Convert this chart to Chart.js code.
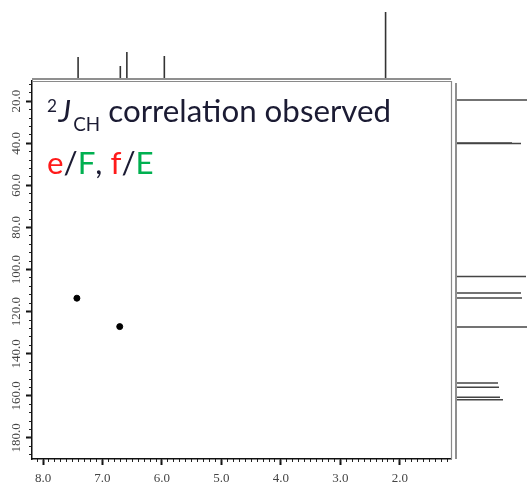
<!DOCTYPE html>
<html>
<head>
<meta charset="utf-8">
<title>HMBC 2J(CH)</title>
<script src="https://cdn.jsdelivr.net/npm/chart.js@4.4.1/dist/chart.umd.min.js"></script>
<style>
    html, body { margin: 0; padding: 0; background: #fff; }
    #wrap { position: relative; width: 527px; height: 485px; overflow: hidden; }
    #wrap canvas { position: absolute; left: 0; top: 0; }
</style>
</head>
<body>
<div id="wrap">
    <canvas id="chartTop" width="527" height="485"></canvas>
    <canvas id="chartRight" width="527" height="485"></canvas>
    <canvas id="chartMain" width="527" height="485"></canvas>
</div>
<script>
// Rango de los ejes (ppm)
const X_MIN = 1.14, X_MAX = 8.185;     // 1H
const Y_MIN = 10.4, Y_MAX = 190;       // 13C

// Marcas de los ejes
const X_TICKS = [8.0, 7.0, 6.0, 5.0, 4.0, 3.0, 2.0];
const Y_TICKS = [20.0, 40.0, 60.0, 80.0, 100.0, 120.0, 140.0, 160.0, 180.0];

// Correlaciones observadas (1H, 13C)
const CROSS_H = [7.43, 6.71];
const CROSS_C = [113.6, 127.1];

// Proyección 1H (arriba)
const TOP_PPM = [7.41, 6.70, 6.59, 5.96, 2.24];
const TOP_INT = [22, 13, 27, 23, 67];

// Proyección 13C (derecha)
const RIGHT_PPM = [19.4, 39.8, 40.1, 103.3, 111.1, 113.5, 127.3, 153.9, 155.9, 160.7, 161.8];
const RIGHT_INT = [71, 56, 65, 70, 65, 66, 71, 42, 43, 44, 47];

// Texto
const NOTA_LINEA2 = [
    { t: 'e', c: '#ff1a1a' }, { t: '/', c: '#1b1b33' }, { t: 'F', c: '#00b050' },
    { t: ', ', c: '#1b1b33' }, { t: 'f', c: '#ff1a1a' }, { t: '/', c: '#1b1b33' },
    { t: 'E', c: '#00b050' }
];

function minorTicks(min, max, step) {
    const out = [];
    for (let v = Math.ceil(min / step) * step; v <= max; v += step) out.push({ value: +v.toFixed(3) });
    return out;
}

const baseOpts = {
    responsive: false,
    animation: false,
    events: [],
    plugins: { legend: { display: false }, tooltip: { enabled: false } }
};

// Marco gris y etiquetas del eje 13C
const marcoPlugin = {
    id: 'marco',
    afterDraw(chart) {
        const { ctx, chartArea: a, scales } = chart;
        ctx.save();
        ctx.strokeStyle = '#8a8a8a';
        ctx.lineWidth = 1.2;
        ctx.beginPath();
        ctx.moveTo(a.left, a.top + 0.5);
        ctx.lineTo(a.right + 0.5, a.top + 0.5);
        ctx.lineTo(a.right + 0.5, a.bottom);
        ctx.stroke();

        // etiquetas rotadas
        ctx.fillStyle = '#444';
        ctx.font = '13px "Liberation Serif", serif';
        ctx.textAlign = 'center';
        ctx.textBaseline = 'middle';
        Y_TICKS.forEach(v => {
            const y = scales.y.getPixelForValue(v);
            ctx.save();
            ctx.translate(17, y);
            ctx.rotate(-Math.PI / 2);
            ctx.fillText(v.toFixed(1), 0, 0);
            ctx.restore();
        });

        // nota
        ctx.textAlign = 'left';
        ctx.textBaseline = 'alphabetic';
        ctx.font = '100px Lato';
        const size = 100 * 283 / ctx.measureText('correlation observed').width;
        ctx.fillStyle = '#1b1b33';
        ctx.font = (size * 0.55) + 'px Lato';
        ctx.fillText('2', 47, 111.7);
        ctx.font = 'italic ' + size + 'px Lato';
        ctx.fillText('J', 58.5, 122.3);
        ctx.font = (size * 0.6) + 'px Lato';
        ctx.fillText('CH', 73.3, 131);
        ctx.font = size + 'px Lato';
        ctx.fillText('correlation observed', 108.3, 122.3);

        let x = 47;
        NOTA_LINEA2.forEach(p => {
            ctx.fillStyle = p.c;
            ctx.fillText(p.t, x, 174.3);
            x += ctx.measureText(p.t).width;
        });
        ctx.restore();
    }
};

// Espectro 2D
new Chart(document.getElementById('chartMain'), {
    type: 'scatter',
    data: {
        datasets: [{
            data: CROSS_H.map((h, i) => ({ x: h, y: CROSS_C[i] })),
            pointRadius: 3,
            backgroundColor: '#000',
            borderColor: '#000'
        }]
    },
    options: {
        ...baseOpts,
        layout: { padding: { top: 81, right: 76, left: 0, bottom: 0 } },
        scales: {
            x: {
                type: 'linear', position: 'bottom', reverse: true, min: X_MIN, max: X_MAX, weight: 1,
                afterFit: s => { s.height = 26; },
                afterBuildTicks: s => { s.ticks = X_TICKS.map(v => ({ value: v })); },
                grid: { drawOnChartArea: false, drawTicks: true, tickLength: 6, tickWidth: 2, tickColor: '#111' },
                border: { display: true, color: '#111', width: 1.5 },
                ticks: {
                    autoSkip: false, maxRotation: 0, minRotation: 0, padding: 6, color: '#444',
                    font: { family: '"Liberation Serif", serif', size: 13 },
                    callback: v => Number(v).toFixed(1)
                }
            },
            xMinor: {
                type: 'linear', position: 'bottom', reverse: true, min: X_MIN, max: X_MAX, weight: 0,
                afterFit: s => { s.height = 0; },
                afterBuildTicks: s => { s.ticks = minorTicks(X_MIN, X_MAX, 0.1); },
                grid: { drawOnChartArea: false, drawTicks: true, tickLength: 3, tickWidth: 1, tickColor: '#222' },
                border: { display: false },
                ticks: { display: false, autoSkip: false }
            },
            y: {
                type: 'linear', position: 'left', reverse: true, min: Y_MIN, max: Y_MAX, weight: 1,
                afterFit: s => { s.width = 32; },
                afterBuildTicks: s => { s.ticks = Y_TICKS.map(v => ({ value: v })); },
                grid: { drawOnChartArea: false, drawTicks: true, tickLength: 6, tickWidth: 2, tickColor: '#111' },
                border: { display: true, color: '#111', width: 1.5 },
                ticks: { display: false, autoSkip: false }
            },
            yMinor: {
                type: 'linear', position: 'left', reverse: true, min: Y_MIN, max: Y_MAX, weight: 0,
                afterFit: s => { s.width = 0; },
                afterBuildTicks: s => { s.ticks = minorTicks(Y_MIN, Y_MAX, 4); },
                grid: { drawOnChartArea: false, drawTicks: true, tickLength: 3, tickWidth: 1, tickColor: '#222' },
                border: { display: false },
                ticks: { display: false, autoSkip: false }
            }
        }
    },
    plugins: [marcoPlugin]
});

// Proyección 1H
new Chart(document.getElementById('chartTop'), {
    type: 'scatter',
    data: {
        datasets: [{
            data: [{ x: X_MAX, y: 0 }, { x: X_MIN, y: 0 }],
            showLine: true, borderColor: '#8f8f8f', borderWidth: 2, pointRadius: 0, clip: false
        }].concat(TOP_PPM.map((p, i) => ({
            data: [{ x: p, y: 0 }, { x: p, y: TOP_INT[i] }],
            showLine: true, borderColor: '#333', borderWidth: 1.6, pointRadius: 0, clip: false
        })))
    },
    options: {
        ...baseOpts,
        layout: { padding: { top: 10, bottom: 406, left: 32, right: 76 } },
        scales: {
            x: { display: false, type: 'linear', reverse: true, min: X_MIN, max: X_MAX },
            y: { display: false, type: 'linear', min: 0, max: 69 }
        }
    }
});

// Proyección 13C
new Chart(document.getElementById('chartRight'), {
    type: 'scatter',
    data: {
        datasets: [{
            data: [{ x: 0, y: Y_MIN + 1 }, { x: 0, y: Y_MAX }],
            showLine: true, borderColor: '#8f8f8f', borderWidth: 2, pointRadius: 0, clip: false
        }].concat(RIGHT_PPM.map((p, i) => ({
            data: [{ x: 0, y: p }, { x: RIGHT_INT[i], y: p }],
            showLine: true, borderColor: '#444', borderWidth: 1.5, pointRadius: 0, clip: false
        })))
    },
    options: {
        ...baseOpts,
        layout: { padding: { top: 81, bottom: 26, left: 456, right: 0 } },
        scales: {
            x: { display: false, type: 'linear', min: 0, max: 71 },
            y: { display: false, type: 'linear', reverse: true, min: Y_MIN, max: Y_MAX }
        }
    }
});
</script>
</body>
</html>
